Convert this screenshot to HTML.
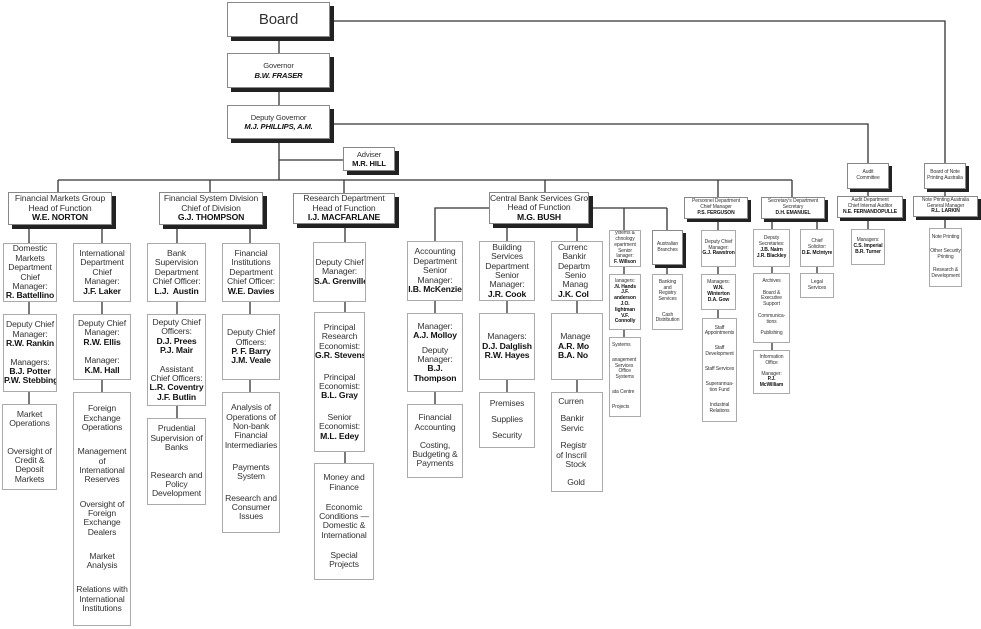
<!DOCTYPE html>
<html><head><meta charset="utf-8"><style>
body{margin:0;width:981px;height:629px;background:#fff;position:relative;overflow:hidden;font-family:"Liberation Sans",Arial,sans-serif;color:#333}
.b{position:absolute;border:1px solid #aaa;background:#fff;text-align:center;font-size:8.6px;line-height:9.4px;letter-spacing:-0.15px;box-sizing:border-box;overflow:hidden;display:flex;flex-direction:column;justify-content:center;white-space:nowrap}
.s{box-shadow:4px 4px 0 #222;border-color:#888}
.t{font-size:5px;line-height:5.8px;letter-spacing:-0.1px}
b{color:#111}
.g{height:9px}
.g2{height:5px}
svg{position:absolute;left:0;top:0}
</style></head><body>
<svg width="981" height="629"><g stroke="#333" stroke-width="1.3" fill="none">
<path d="M279 37V53M279 88V105M279 139V180M279 160H343"/>
<path d="M330 21H945V163M330 124H868V163"/>
<path d="M58 180H792M58 180V192M210 180V192M344 180V193M545 180V192M718 180V197M792 180V197"/>
<path d="M868 189V196M868 218V229M945 189V196M945 217V228"/>
<path d="M29 225V243M102 225V243M29 302V314M29 392V404M102 302V314M102 380V392"/>
<path d="M177 225V243M250 225V243M177 302V314M177 406V418M250 302V314M250 380V392"/>
<path d="M345 224V242M345 302V312M345 452V463"/>
<path d="M489 208H435V241M507 224V241M577 224V241M589 208H667M624 208V230M667 208V230"/>
<path d="M435 301V313M435 392V404M507 301V313M507 380V392M577 301V313M577 380V392"/>
<path d="M624 267V274M624 330V337M667 265V274"/>
<path d="M718 219V230M718 267V274M718 310V318M772 219V229M772 267V273M772 343V350M817 219V229M817 267V273"/>
</g></svg>

<div class="b s" style="left:227px;top:2px;width:103px;height:35px;font-size:15px;line-height:16px">Board</div>
<div class="b s" style="left:227px;top:53px;width:103px;height:35px;font-size:7.6px;line-height:9.5px">Governor<b><i>B.W. FRASER</i></b></div>
<div class="b s" style="left:227px;top:105px;width:103px;height:34px;font-size:7.6px;line-height:9.5px">Deputy Governor<b><i>M.J. PHILLIPS, A.M.</i></b></div>
<div class="b s" style="left:343px;top:147px;width:52px;height:24px;font-size:7.6px;line-height:9.5px">Adviser<b>M.R. HILL</b></div>

<div class="b s" style="left:8px;top:192px;width:104px;height:33px">Financial Markets Group<span>Head of Function</span><b>W.E. NORTON</b></div>
<div class="b s" style="left:159px;top:192px;width:104px;height:33px">Financial System Division<span>Chief of Division</span><b>G.J. THOMPSON</b></div>
<div class="b s" style="left:293px;top:193px;width:102px;height:31px">Research Department<span>Head of Function</span><b>I.J. MACFARLANE</b></div>
<div class="b s" style="left:489px;top:192px;width:100px;height:32px">Central Bank Services Gro<span>Head of Function</span><b>M.G. BUSH</b></div>

<div class="b" style="left:3px;top:243px;width:54px;height:59px">Domestic<span>Markets</span><span>Department</span><span>Chief</span><span>Manager:</span><b>R. Battellino</b></div>
<div class="b" style="left:73px;top:243px;width:58px;height:59px">International<span>Department</span><span>Chief</span><span>Manager:</span><b>J.F. Laker</b></div>
<div class="b" style="left:3px;top:314px;width:54px;height:78px">Deputy Chief<span>Manager:</span><b>R.W. Rankin</b><div class="g"></div>Managers:<b>B.J. Potter</b><b>P.W. Stebbing</b></div>
<div class="b" style="left:73px;top:314px;width:58px;height:66px">Deputy Chief<span>Manager:</span><b>R.W. Ellis</b><div class="g"></div>Manager:<b>K.M. Hall</b></div>
<div class="b" style="left:2px;top:404px;width:55px;height:86px">Market<span>Operations</span><div class="g"></div><div class="g"></div>Oversight of<span>Credit &amp;</span><span>Deposit</span><span>Markets</span></div>
<div class="b" style="left:73px;top:392px;width:58px;height:234px;justify-content:space-around;padding:4px 0">
<div>Foreign<br>Exchange<br>Operations</div><div>Management<br>of<br>International<br>Reserves</div><div>Oversight of<br>Foreign<br>Exchange<br>Dealers</div><div>Market<br>Analysis</div><div>Relations with<br>International<br>Institutions</div></div>

<div class="b" style="left:147px;top:243px;width:59px;height:59px">Bank<span>Supervision</span><span>Department</span><span>Chief Officer:</span><b>L.J.&nbsp; Austin</b></div>
<div class="b" style="left:222px;top:243px;width:58px;height:59px">Financial<span>Institutions</span><span>Department</span><span>Chief Officer:</span><b>W.E. Davies</b></div>
<div class="b" style="left:147px;top:314px;width:59px;height:92px">Deputy Chief<span>Officers:</span><b>D.J. Prees</b><b>P.J. Mair</b><div class="g"></div>Assistant<span>Chief Officers:</span><b>L.R. Coventry</b><b>J.F. Butlin</b></div>
<div class="b" style="left:222px;top:314px;width:58px;height:66px">Deputy Chief<span>Officers:</span><b>P. F. Barry</b><b>J.M. Veale</b></div>
<div class="b" style="left:147px;top:418px;width:59px;height:87px">Prudential<span>Supervision of</span><span>Banks</span><div class="g"></div><div class="g"></div>Research and<span>Policy</span><span>Development</span></div>
<div class="b" style="left:222px;top:392px;width:58px;height:141px;justify-content:space-around;padding:4px 0"><div>Analysis of<br>Operations of<br>Non-bank<br>Financial<br>Intermediaries</div><div>Payments<br>System</div><div>Research and<br>Consumer<br>Issues</div></div>

<div class="b" style="left:313px;top:242px;width:53px;height:60px">Deputy Chief<span>Manager:</span><b>S.A. Grenville</b></div>
<div class="b" style="left:314px;top:312px;width:51px;height:140px;justify-content:space-around;padding:4px 0"><div>Principal<br>Research<br>Economist:<br><b>G.R. Stevens</b></div><div>Principal<br>Economist:<br><b>B.L. Gray</b></div><div>Senior<br>Economist:<br><b>M.L. Edey</b></div></div>
<div class="b" style="left:314px;top:463px;width:60px;height:117px;justify-content:space-around;padding:4px 0"><div>Money and<br>Finance</div><div>Economic<br>Conditions —<br>Domestic &amp;<br>International</div><div>Special<br>Projects</div></div>

<div class="b" style="left:407px;top:241px;width:56px;height:60px">Accounting<span>Department</span><span>Senior</span><span>Manager:</span><b>I.B. McKenzie</b></div>
<div class="b" style="left:407px;top:313px;width:56px;height:79px">Manager:<b>A.J. Molloy</b><div class="g2"></div>Deputy<span>Manager:</span><b>B.J.</b><b>Thompson</b></div>
<div class="b" style="left:407px;top:404px;width:56px;height:74px;justify-content:space-around;padding:4px 0"><div>Financial<br>Accounting</div><div>Costing,<br>Budgeting &amp;<br>Payments</div></div>

<div class="b" style="left:479px;top:241px;width:56px;height:60px">Building<span>Services</span><span>Department</span><span>Senior</span><span>Manager:</span><b>J.R. Cook</b></div>
<div class="b" style="left:479px;top:313px;width:56px;height:67px">Managers:<b>D.J. Dalglish</b><b>R.W. Hayes</b></div>
<div class="b" style="left:479px;top:392px;width:56px;height:56px;justify-content:space-around;padding:3px 0"><div>Premises</div><div>Supplies</div><div>Security</div></div>

<div class="b" style="left:551px;top:241px;width:52px;height:60px;align-items:flex-start;padding-left:6px">Currenc<span>&nbsp;&nbsp;Bankir</span><span>Departm</span><span>&nbsp;&nbsp;&nbsp;Senio</span><span>&nbsp;&nbsp;Manag</span><b>J.K. Col</b></div>
<div class="b" style="left:551px;top:313px;width:52px;height:67px;align-items:flex-start;padding-left:6px">&nbsp;Manage<b>A.R. Mo</b><b>B.A. No</b></div>
<div class="b" style="left:551px;top:392px;width:52px;height:100px;align-items:flex-start;padding-left:4px;justify-content:space-around"><div>&nbsp;Curren</div><div>&nbsp;&nbsp;Bankir<br>&nbsp;&nbsp;Servic</div><div>&nbsp;&nbsp;Registr<br>of Inscril<br>&nbsp;&nbsp;&nbsp;&nbsp;Stock</div><div>&nbsp;&nbsp;&nbsp;&nbsp;&nbsp;Gold</div></div>

<div class="b t" style="left:609px;top:230px;width:32px;height:37px">ystems &amp;<span>chnology</span><span>epartment</span><span>Senior</span><span>lanager:</span><b>F. Willson</b></div>
<div class="b t" style="left:609px;top:274px;width:32px;height:56px">lanagers:<b>.N. Hands</b><b>J.F.</b><b>anderson</b><b>J.O.</b><b>lightman</b><b>V.F.</b><b>Connolly</b></div>
<div class="b t" style="left:609px;top:337px;width:32px;height:80px;justify-content:space-around;align-items:flex-start;padding-left:2px"><div>Systems</div><div>anagement<br>Services<br>&nbsp;Office<br>&nbsp;Systems</div><div>ata Centre</div><div>Projects</div></div>
<div class="b s t" style="left:652px;top:230px;width:31px;height:35px;box-shadow:3px 3px 0 #222">Australian<span>Branches</span></div>
<div class="b t" style="left:652px;top:274px;width:31px;height:56px;justify-content:space-around"><div>Banking<br>and<br>Registry<br>Services</div><div>Cash<br>Distribution</div></div>

<div class="b s t" style="left:684px;top:197px;width:64px;height:22px;box-shadow:3px 3px 0 #222">Personnel Department<span>Chief Manager</span><b>P.S. FERGUSON</b></div>
<div class="b s t" style="left:761px;top:197px;width:64px;height:22px;box-shadow:3px 3px 0 #222">Secretary's Department<span>Secretary</span><b>D.H. EMANUEL</b></div>
<div class="b t" style="left:701px;top:230px;width:35px;height:37px">Deputy Chief<span>Manager:</span><b>G.J. Rawstron</b></div>
<div class="b t" style="left:701px;top:274px;width:35px;height:36px">Managers:<b>W.N.</b><b>Winterton</b><b>D.A. Gow</b></div>
<div class="b t" style="left:702px;top:318px;width:35px;height:104px;justify-content:space-around;padding:2px 0"><div>Staff<br>Appointments</div><div>Staff<br>Development</div><div>Staff Services</div><div>Superannua-<br>tion Fund</div><div>Industrial<br>Relations</div></div>
<div class="b t" style="left:753px;top:229px;width:37px;height:38px">Deputy<span>Secretaries:</span><b>J.B. Nairn</b><b>J.R. Blackley</b></div>
<div class="b t" style="left:753px;top:273px;width:37px;height:70px;justify-content:space-around;padding:2px 0"><div>Archives</div><div>Board &amp;<br>Executive<br>Support</div><div>Communica-<br>tions</div><div>Publishing</div></div>
<div class="b t" style="left:753px;top:350px;width:37px;height:44px">Information<span>Office</span><div class="g2"></div>Manager:<b>P.J.</b><b>McWilliam</b></div>
<div class="b t" style="left:800px;top:229px;width:34px;height:38px">Chief<span>Solicitor:</span><b>D.E. McIntyre</b></div>
<div class="b t" style="left:800px;top:273px;width:34px;height:25px">Legal<span>Services</span></div>

<div class="b s t" style="left:847px;top:163px;width:42px;height:26px;box-shadow:3px 3px 0 #222">Audit<span>Committee</span></div>
<div class="b s t" style="left:837px;top:196px;width:66px;height:22px;box-shadow:3px 3px 0 #222">Audit Department<span>Chief Internal Auditor</span><b>N.E. FERNANDOPULLE</b></div>
<div class="b t" style="left:851px;top:229px;width:34px;height:36px">Managers:<b>C.S. Imperial</b><b>B.R. Turner</b></div>
<div class="b s t" style="left:924px;top:163px;width:42px;height:26px;box-shadow:3px 3px 0 #222">Board of Note<span>Printing Australia</span></div>
<div class="b s t" style="left:913px;top:196px;width:65px;height:21px;box-shadow:3px 3px 0 #222">Note Printing Australia<span>General Manager</span><b>R.L. LARKIN</b></div>
<div class="b t" style="left:929px;top:228px;width:33px;height:59px;justify-content:space-around;padding:2px 0"><div>Note Printing</div><div>Other Security<br>Printing</div><div>Research &amp;<br>Development</div></div>
</body></html>
